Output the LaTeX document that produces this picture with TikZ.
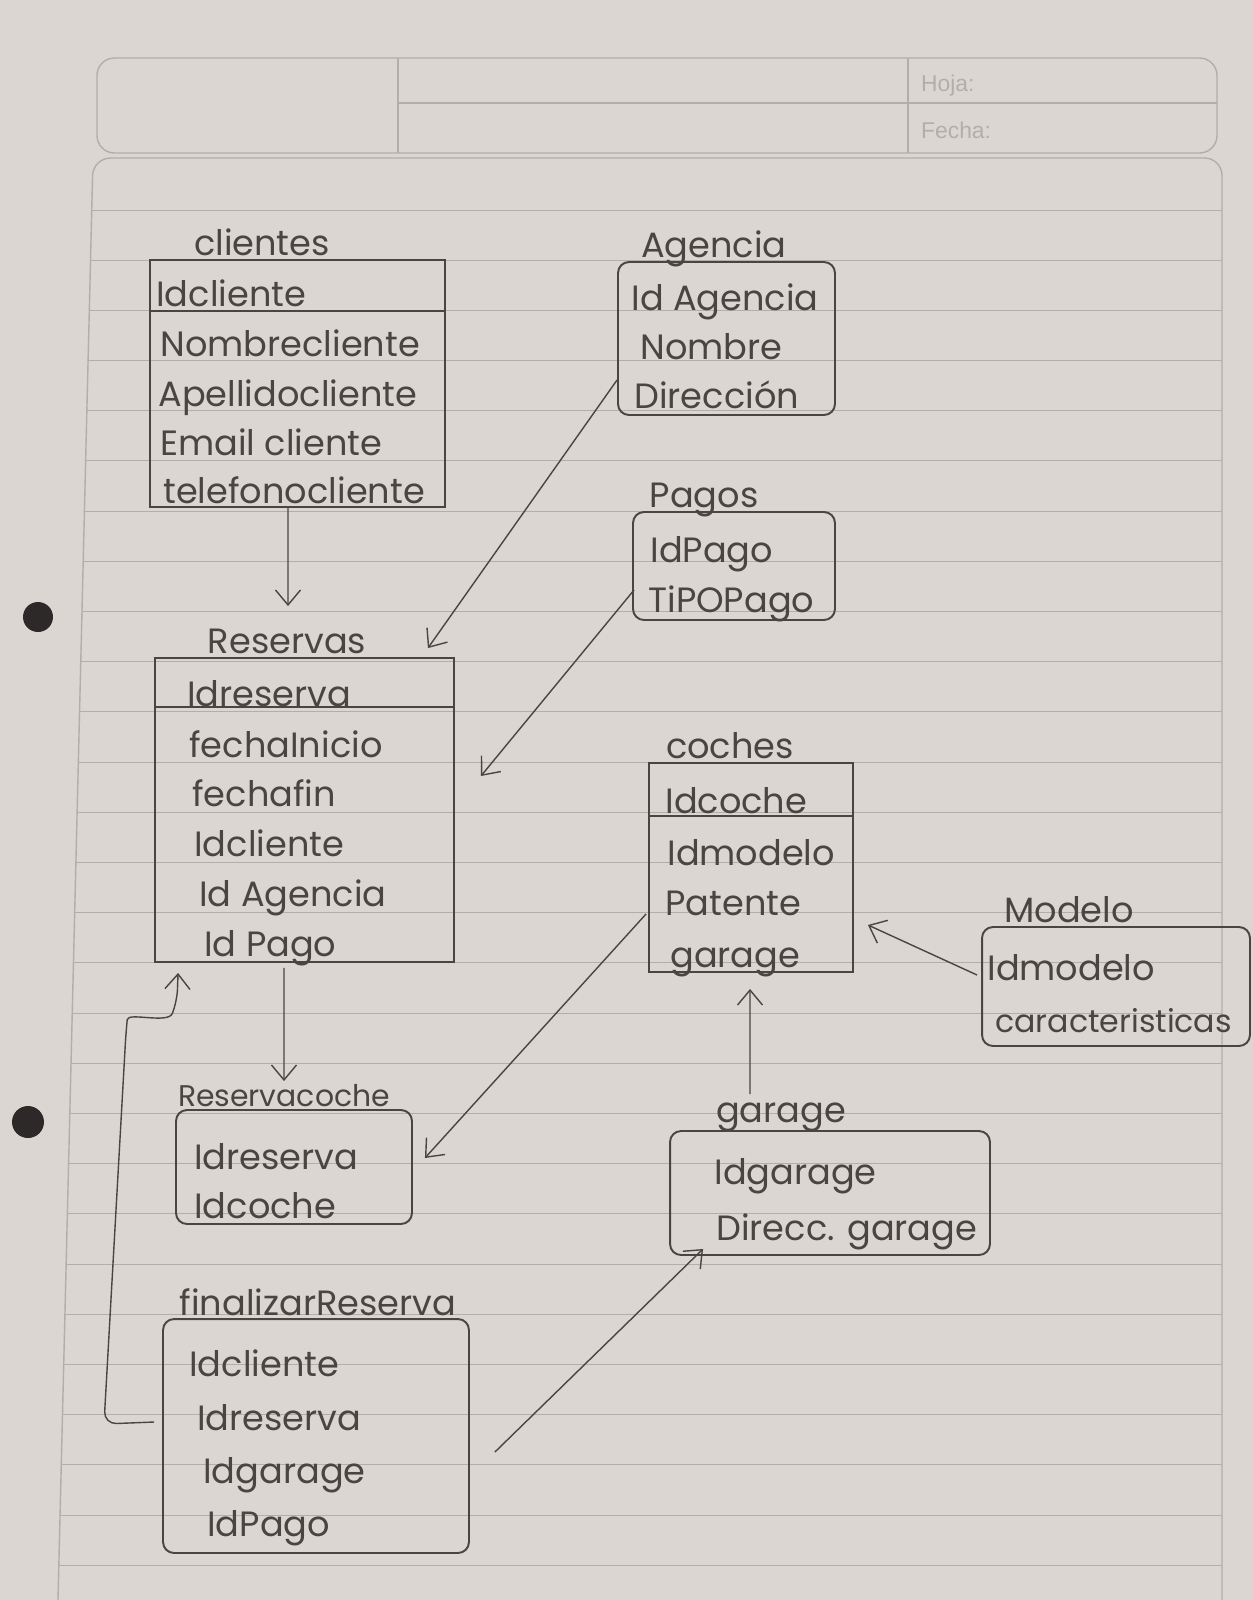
\documentclass[tikz,border=0pt]{standalone}
\usepackage{fontspec}
\setmainfont{Poppins}
\newfontfamily\printfont{Liberation Sans}
\usetikzlibrary{arrows.meta}

\definecolor{paper}{HTML}{DCD6D3}
\definecolor{ruling}{HTML}{B3ADAB}
\definecolor{printed}{HTML}{B3ADAB}
\definecolor{pencil}{HTML}{4A4443}
\definecolor{hole}{HTML}{2E2929}

\tikzset{
  tbl/.style = {draw=pencil, line width=1.1pt, inner sep=0pt},
  rtbl/.style = {tbl, rounded corners=0.22cm},
  ttl/.style = {text=pencil, font=\fontsize{20}{22}\selectfont, inner sep=0pt, anchor=base},
  fld/.style = {text=pencil, font=\fontsize{20}{22}\selectfont, anchor=west,
                inner sep=0pt, text height=0.72em, text depth=0.2em, yshift=-0.16cm},
  rel/.style = {draw=pencil, line width=0.8pt,
                -{Straight Barb[length=3mm, width=5mm, line width=0.8pt]}},
  form/.style = {draw=printed, line width=0.8pt},
}

\begin{document}
\begin{tikzpicture}[x=0.02cm, y=-0.02cm]
  \useasboundingbox (0,0) rectangle (1253,1600);

  % paper
  \fill[paper] (0,0) rectangle (1253,1600);
  \draw[form, rounded corners=0.35cm] (97,58) rectangle (1217,153);
  \draw[form] (398,58) -- (398,153);
  \draw[form] (908,58) -- (908,153);
  \draw[form] (398,103) -- (1217,103);
  \node[text=printed, font=\printfont\fontsize{13}{15}\selectfont, anchor=west] (hoja) at (915,86) {Hoja:};
  \node[text=printed, font=\printfont\fontsize{13}{15}\selectfont, anchor=west] (fecha) at (915,130) {Fecha:};
  \draw[form, rounded corners=0.35cm] (58,1600) -- (93,158) -- (1222,158) -- (1222,1600);
  \foreach \k in {0,...,27}
    \draw[ruling, line width=0.6pt] ({93-(52+50.2*\k)*0.0243},{int(210+50.2*\k)+0.5}) -- (1222,{int(210+50.2*\k)+0.5});
  \fill[hole] (38,617) circle[radius=0.3cm];
  \fill[hole] (28,1122) circle[radius=0.32cm];

  % clientes
  \node[tbl, minimum width=5.9cm, minimum height=4.94cm] (clientes) at (297.5,383.5) {};
  \draw[tbl] (clientes.west |- 0,311) -- (clientes.east |- 0,311);
  \node[ttl] (clientes-t) at (262,255) {clientes};
  \node[fld] (cl1) at (156,294) {Idcliente};
  \node[fld] (cl2) at (160,344) {Nombrecliente};
  \node[fld] (cl3) at (158,394) {Apellidocliente};
  \node[fld] (cl4) at (160,443) {Email cliente};
  \node[fld] (cl5) at (163,491) {telefonocliente};

  % Agencia
  \node[rtbl, minimum width=4.34cm, minimum height=3.06cm] (agencia) at (726.5,338.5) {};
  \node[ttl] (agencia-t) at (714,257) {Agencia};
  \node[fld] (ag1) at (631,298) {Id Agencia};
  \node[fld] (ag2) at (640,347) {Nombre};
  \node[fld] (ag3) at (634,396) {Dirección};

  % Pagos
  \node[rtbl, minimum width=4.04cm, minimum height=2.16cm] (pagos) at (734,566) {};
  \node[ttl] (pagos-t) at (704,507) {Pagos};
  \node[fld] (pa1) at (650,550) {IdPago};
  \node[fld] (pa2) at (648,600) {TiPOPago};

  % Reservas
  \node[tbl, minimum width=5.98cm, minimum height=6.08cm] (reservas) at (304.5,810) {};
  \draw[tbl] (reservas.west |- 0,707) -- (reservas.east |- 0,707);
  \node[ttl] (reservas-t) at (287,653) {Reservas};
  \node[fld] (re1) at (187,694) {Idreserva};
  \node[fld] (re2) at (189,745) {fechaInicio};
  \node[fld] (re3) at (192,794) {fechafin};
  \node[fld] (re4) at (194,844) {Idcliente};
  \node[fld] (re5) at (199,894) {Id Agencia};
  \node[fld] (re6) at (204,944) {Id Pago};

  % coches
  \node[tbl, minimum width=4.08cm, minimum height=4.18cm] (coches) at (751,867.5) {};
  \draw[tbl] (coches.west |- 0,816) -- (coches.east |- 0,816);
  \node[ttl] (coches-t) at (730,758) {coches};
  \node[fld] (co1) at (665,801) {Idcoche};
  \node[fld] (co2) at (667,853) {Idmodelo};
  \node[fld] (co3) at (665,903) {Patente};
  \node[fld] (co4) at (670,955) {garage};

  % Modelo
  \node[rtbl, minimum width=5.36cm, minimum height=2.38cm] (modelo) at (1116,986.5) {};
  \node[ttl] (modelo-t) at (1069,922) {Modelo};
  \node[fld] (mo1) at (987,968) {Idmodelo};
  \node[fld, font=\fontsize{18}{20}\selectfont] (mo2) at (995,1020) {caracteristicas};

  % reservacoche
  \node[rtbl, minimum width=4.72cm, minimum height=2.28cm] (rescoche) at (294,1167) {};
  \node[ttl, font=\fontsize{17}{19}\selectfont] (rescoche-t) at (284,1106) {Reservacoche};
  \node[fld] (rc1) at (194,1157) {Idreserva};
  \node[fld] (rc2) at (194,1206) {Idcoche};

  % garage
  \node[rtbl, minimum width=6.4cm, minimum height=2.48cm] (garage) at (830,1193) {};
  \node[ttl] (garage-t) at (781,1122) {garage};
  \node[fld] (ga1) at (714,1172) {Idgarage};
  \node[fld] (ga2) at (716,1228) {Direcc. garage};

  % finalizarReserva
  \node[rtbl, minimum width=6.12cm, minimum height=4.68cm] (finalizar) at (316,1436) {};
  \node[ttl] (finalizar-t) at (318,1315) {finalizarReserva};
  \node[fld] (fi1) at (189,1364) {Idcliente};
  \node[fld] (fi2) at (197,1418) {Idreserva};
  \node[fld] (fi3) at (203,1471) {Idgarage};
  \node[fld] (fi4) at (207,1524) {IdPago};

  % relaciones
  \draw[rel] ([xshift=-0.19cm]clientes.south) -- ([xshift=-0.33cm, yshift=1.02cm]reservas.north);
  \draw[rel] ([yshift=-0.83cm]agencia.west) -- ([xshift=-0.54cm, yshift=0.18cm]reservas.north east);
  \draw[rel] ([xshift=0.04cm, yshift=-0.48cm]pagos.west) -- ([xshift=0.52cm, yshift=0.68cm]reservas.east);
  \draw[rel] ([xshift=-0.41cm, yshift=-0.1cm]reservas.south) -- ([xshift=-0.2cm, yshift=0.56cm]rescoche.north);
  \draw[rel] ([xshift=-0.04cm, yshift=-0.93cm]coches.west) -- ([xshift=0.24cm, yshift=0.18cm]rescoche.east);
  \draw[rel] ([xshift=-0.08cm, yshift=0.23cm]modelo.west) -- ([xshift=0.28cm, yshift=-1.15cm]coches.east);
  \draw[rel] ([xshift=-1.6cm, yshift=0.72cm]garage.north) -- ([xshift=-0.02cm, yshift=-0.32cm]coches.south);
  \draw[rel] ([xshift=0.5cm, yshift=-0.32cm]finalizar.east) -- ([xshift=0.68cm, yshift=0.14cm]garage.south west);
  \coordinate (loop-a) at (104,1424);
  \coordinate (loop-b) at (126,1032);
  \draw[rel, rounded corners=0.25cm] ([xshift=-0.16cm, yshift=0.28cm]finalizar.west) -- (loop-a) -- (loop-b)
    .. controls (128,1012) and (168,1024) .. (177,1002) -- ([xshift=0.48cm, yshift=-0.2cm]reservas.south west);
\end{tikzpicture}
\end{document}
